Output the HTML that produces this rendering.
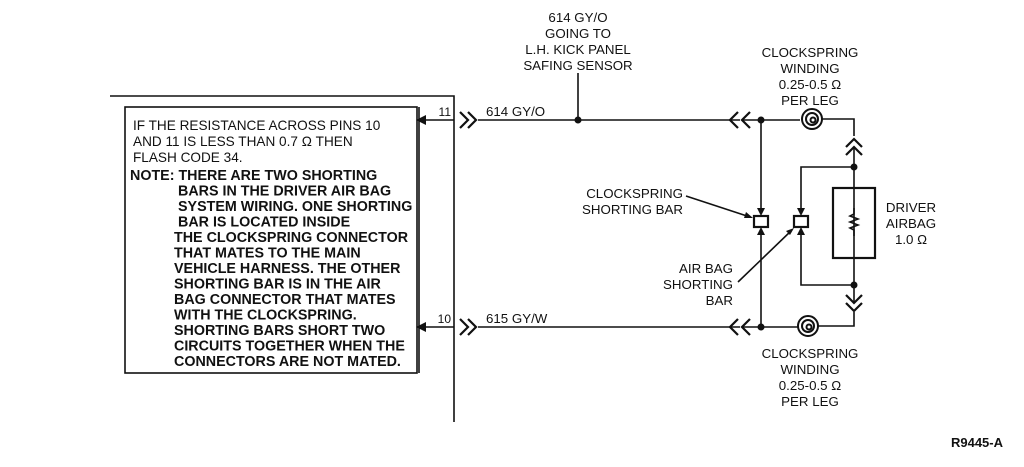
<!DOCTYPE html>
<html><head><meta charset="utf-8"><style>
html,body{margin:0;padding:0;background:#fff;}
svg{display:block;}
text{font-family:"Liberation Sans",sans-serif;font-size:13.3px;fill:#111;}
.b{font-weight:bold;font-size:14.3px;}
.n{font-size:13.6px;}
</style></head><body>
<svg width="1024" height="467" viewBox="0 0 1024 467" xmlns="http://www.w3.org/2000/svg">
<g stroke="#111" stroke-width="1.6" fill="none">
<polyline points="110,96 454,96 454,422"/>
<rect x="125" y="107" width="292" height="266"/>
<line x1="419" y1="107" x2="419" y2="373"/>
<line x1="420" y1="120" x2="454" y2="120"/>
<line x1="420" y1="327" x2="454" y2="327"/>
<line x1="478" y1="120" x2="740" y2="120"/>
<line x1="478" y1="327" x2="740" y2="327"/>
<line x1="578" y1="73" x2="578" y2="120"/>
<g stroke-width="2.2">
<polyline points="460,112 468,120 460,128"/><polyline points="468,112 476,120 468,128"/>
<polyline points="460,319 468,327 460,335"/><polyline points="468,319 476,327 468,335"/>
<polyline points="738,112 730,120 738,128"/><polyline points="750,112 742,120 750,128"/>
<polyline points="738,319 730,327 738,335"/><polyline points="750,319 742,327 750,335"/>
<polyline points="846,147 854,139 862,147"/><polyline points="846,155 854,147 862,155"/>
<polyline points="846,295 854,303 862,295"/><polyline points="846,303 854,311 862,303"/>
</g>
<line x1="742" y1="120" x2="800" y2="120"/>
<line x1="742" y1="327" x2="798" y2="327"/>
<g stroke-width="2">
<circle cx="812" cy="119" r="10"/><circle cx="812" cy="119" r="6"/><circle cx="813" cy="120" r="2.5"/>
<circle cx="808" cy="326" r="10"/><circle cx="808" cy="326" r="6"/><circle cx="809" cy="327" r="2.5"/>
</g>
<polyline points="822,119 854,119 854,136"/>
<polyline points="818,326 854,326 854,312"/>
<line x1="854" y1="147" x2="854" y2="285"/>
<line x1="854" y1="285" x2="854" y2="303"/>
<rect x="833" y="188" width="42" height="70" stroke-width="2.2"/>
<polyline points="854,208 854,214 850,216 858,219 850,222 858,225 850,228 854,230 854,236"/>
<line x1="761" y1="120" x2="761" y2="213"/>
<line x1="761" y1="232" x2="761" y2="327"/>
<polyline points="854,167 801,167 801,213"/>
<polyline points="854,285 801,285 801,232"/>
<rect x="754" y="216" width="14" height="11" stroke-width="2.2"/>
<rect x="794" y="216" width="14" height="11" stroke-width="2.2"/>
<line x1="686" y1="196" x2="750" y2="217"/>
<line x1="738" y1="282" x2="792" y2="230"/>
</g>
<g fill="#111">
<circle cx="578" cy="120" r="3.5"/>
<circle cx="761" cy="120" r="3.5"/><circle cx="761" cy="327" r="3.5"/>
<circle cx="854" cy="167" r="3.5"/><circle cx="854" cy="285" r="3.5"/>
<polygon points="416,120 426,115 426,125"/>
<polygon points="416,327 426,322 426,332"/>
<polygon points="761,216 757,208 765,208"/><polygon points="761,227 757,235 765,235"/>
<polygon points="801,216 797,208 805,208"/><polygon points="801,227 797,235 805,235"/>
<polygon points="753,218 744,218 746,212"/>
<polygon points="794,228 786,231 790,235"/>
</g>
<g text-anchor="middle">
<text x="578" y="22">614 GY/O</text>
<text x="578" y="38">GOING TO</text>
<text x="578" y="54">L.H. KICK PANEL</text>
<text x="578" y="70">SAFING SENSOR</text>
<text x="810" y="57">CLOCKSPRING</text>
<text x="810" y="73">WINDING</text>
<text x="810" y="89">0.25-0.5 Ω</text>
<text x="810" y="105">PER LEG</text>
<text x="810" y="358">CLOCKSPRING</text>
<text x="810" y="374">WINDING</text>
<text x="810" y="390">0.25-0.5 Ω</text>
<text x="810" y="406">PER LEG</text>
<text x="911" y="212">DRIVER</text>
<text x="911" y="228">AIRBAG</text>
<text x="911" y="244">1.0 Ω</text>
</g>
<g text-anchor="end">
<text x="683" y="198">CLOCKSPRING</text>
<text x="683" y="214">SHORTING BAR</text>
<text x="733" y="273">AIR BAG</text>
<text x="733" y="289">SHORTING</text>
<text x="733" y="305">BAR</text>
<text x="451" y="116" style="font-size:12px">11</text>
<text x="451" y="323" style="font-size:12px">10</text>
<text x="1003" y="447" class="b" style="font-size:13px">R9445-A</text>
</g>
<text x="486" y="116">614 GY/O</text>
<text x="486" y="323">615 GY/W</text>
<text x="133" y="130" class="n">IF THE RESISTANCE ACROSS PINS 10</text>
<text x="133" y="146" class="n">AND 11 IS LESS THAN 0.7 Ω THEN</text>
<text x="133" y="162" class="n">FLASH CODE 34.</text>
<text x="130" y="180" class="b">NOTE: THERE ARE TWO SHORTING</text>
<text x="178" y="195.5" class="b">BARS IN THE DRIVER AIR BAG</text>
<text x="178" y="211" class="b">SYSTEM WIRING. ONE SHORTING</text>
<text x="178" y="226.5" class="b">BAR IS LOCATED INSIDE</text>
<text x="174" y="242" class="b">THE CLOCKSPRING CONNECTOR</text>
<text x="174" y="257.5" class="b">THAT MATES TO THE MAIN</text>
<text x="174" y="273" class="b">VEHICLE HARNESS. THE OTHER</text>
<text x="174" y="288.5" class="b">SHORTING BAR IS IN THE AIR</text>
<text x="174" y="304" class="b">BAG CONNECTOR THAT MATES</text>
<text x="174" y="319.5" class="b">WITH THE CLOCKSPRING.</text>
<text x="174" y="335" class="b">SHORTING BARS SHORT TWO</text>
<text x="174" y="350.5" class="b">CIRCUITS TOGETHER WHEN THE</text>
<text x="174" y="366" class="b">CONNECTORS ARE NOT MATED.</text>
</svg>
</body></html>
